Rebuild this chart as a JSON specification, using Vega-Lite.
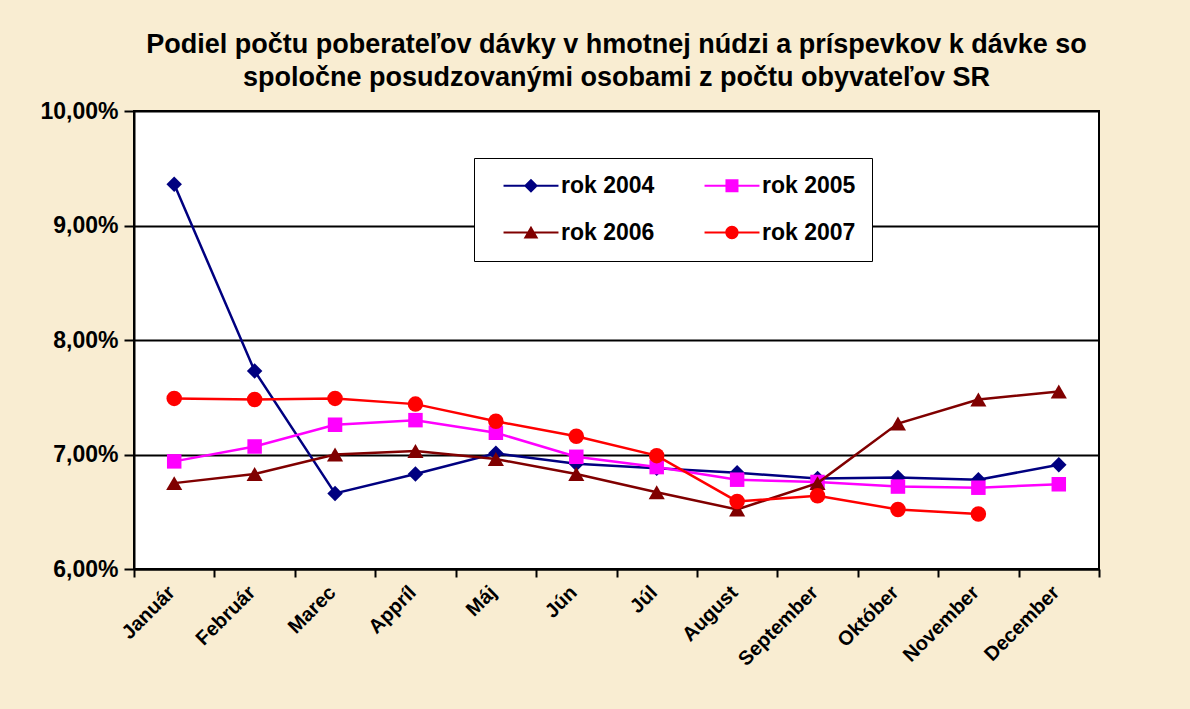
{
  "$schema": "https://vega.github.io/schema/vega-lite/v6.json",
  "width": 965,
  "height": 458,
  "autosize": {"type": "none"},
  "padding": {"left": 134, "top": 111, "right": 91, "bottom": 140},
  "background": "#F9EDD2",
  "title": {
    "text": ["Podiel  počtu poberateľov dávky v hmotnej núdzi a príspevkov k dávke so", "spoločne posudzovanými osobami z počtu obyvateľov SR"],
    "font": "Liberation Sans",
    "fontSize": 27,
    "fontWeight": "bold",
    "color": "black",
    "anchor": "middle",
    "offset": 8,
    "lineHeight": 33
  },
  "config": {
    "view": {"fill": "white", "stroke": "black", "strokeWidth": 2},
    "font": "Liberation Sans"
  },
  "data": {
    "values": [
      {"month": "Január", "series": "rok 2004", "value": 9.36},
      {"month": "Február", "series": "rok 2004", "value": 7.73},
      {"month": "Marec", "series": "rok 2004", "value": 6.66},
      {"month": "Appríl", "series": "rok 2004", "value": 6.83},
      {"month": "Máj", "series": "rok 2004", "value": 7.01},
      {"month": "Jún", "series": "rok 2004", "value": 6.92},
      {"month": "Júl", "series": "rok 2004", "value": 6.88},
      {"month": "August", "series": "rok 2004", "value": 6.84},
      {"month": "September", "series": "rok 2004", "value": 6.79},
      {"month": "Október", "series": "rok 2004", "value": 6.80},
      {"month": "November", "series": "rok 2004", "value": 6.78},
      {"month": "December", "series": "rok 2004", "value": 6.91},
      {"month": "Január", "series": "rok 2005", "value": 6.94},
      {"month": "Február", "series": "rok 2005", "value": 7.07},
      {"month": "Marec", "series": "rok 2005", "value": 7.26},
      {"month": "Appríl", "series": "rok 2005", "value": 7.30},
      {"month": "Máj", "series": "rok 2005", "value": 7.19},
      {"month": "Jún", "series": "rok 2005", "value": 6.98},
      {"month": "Júl", "series": "rok 2005", "value": 6.89},
      {"month": "August", "series": "rok 2005", "value": 6.78},
      {"month": "September", "series": "rok 2005", "value": 6.76},
      {"month": "Október", "series": "rok 2005", "value": 6.72},
      {"month": "November", "series": "rok 2005", "value": 6.71},
      {"month": "December", "series": "rok 2005", "value": 6.74},
      {"month": "Január", "series": "rok 2006", "value": 6.75},
      {"month": "Február", "series": "rok 2006", "value": 6.83},
      {"month": "Marec", "series": "rok 2006", "value": 7.00},
      {"month": "Appríl", "series": "rok 2006", "value": 7.03},
      {"month": "Máj", "series": "rok 2006", "value": 6.96},
      {"month": "Jún", "series": "rok 2006", "value": 6.83},
      {"month": "Júl", "series": "rok 2006", "value": 6.67},
      {"month": "August", "series": "rok 2006", "value": 6.52},
      {"month": "September", "series": "rok 2006", "value": 6.75},
      {"month": "Október", "series": "rok 2006", "value": 7.27},
      {"month": "November", "series": "rok 2006", "value": 7.48},
      {"month": "December", "series": "rok 2006", "value": 7.55},
      {"month": "Január", "series": "rok 2007", "value": 7.49},
      {"month": "Február", "series": "rok 2007", "value": 7.48},
      {"month": "Marec", "series": "rok 2007", "value": 7.49},
      {"month": "Appríl", "series": "rok 2007", "value": 7.44},
      {"month": "Máj", "series": "rok 2007", "value": 7.29},
      {"month": "Jún", "series": "rok 2007", "value": 7.16},
      {"month": "Júl", "series": "rok 2007", "value": 6.99},
      {"month": "August", "series": "rok 2007", "value": 6.59},
      {"month": "September", "series": "rok 2007", "value": 6.64},
      {"month": "Október", "series": "rok 2007", "value": 6.52},
      {"month": "November", "series": "rok 2007", "value": 6.48}
    ]
  },
  "encoding": {
    "x": {
      "field": "month",
      "type": "nominal",
      "sort": null,
      "bandPosition": 0.5,
      "scale": {"type": "band", "paddingInner": 0, "paddingOuter": 0},
      "axis": {
        "title": null,
        "labelAngle": -45,
        "labelFont": "Liberation Sans",
        "labelFontSize": 20,
        "labelFontWeight": "bold",
        "labelColor": "black",
        "labelPadding": 5,
        "labelOffset": -10,
        "tickBand": "extent",
        "tickColor": "black",
        "tickWidth": 2,
        "tickSize": 8,
        "domainColor": "black",
        "domainWidth": 2,
        "grid": false
      }
    },
    "y": {
      "field": "value",
      "type": "quantitative",
      "scale": {"domain": [6, 10], "nice": false, "zero": false},
      "axis": {
        "title": null,
        "values": [6, 7, 8, 9, 10],
        "labelExpr": "replace(format(datum.value, '.2f'), '.', ',') + '%'",
        "labelFont": "Liberation Sans",
        "labelFontSize": 23,
        "labelFontWeight": "bold",
        "labelColor": "black",
        "labelPadding": 6,
        "grid": true,
        "gridColor": "black",
        "gridWidth": 2,
        "gridOpacity": 1,
        "tickColor": "black",
        "tickWidth": 2,
        "tickSize": 10,
        "domainColor": "black",
        "domainWidth": 2
      }
    }
  },
  "layer": [
    {
      "transform": [{"filter": "datum.series === 'rok 2004'"}],
      "mark": {"type": "line", "color": "#000080", "strokeWidth": 2.5,
               "point": {"shape": "diamond", "filled": true, "size": 240, "opacity": 1, "color": "#000080"}}
    },
    {
      "transform": [{"filter": "datum.series === 'rok 2005'"}],
      "mark": {"type": "line", "color": "#FF00FF", "strokeWidth": 2.5,
               "point": {"shape": "square", "filled": true, "size": 210, "opacity": 1, "color": "#FF00FF"}}
    },
    {
      "transform": [{"filter": "datum.series === 'rok 2006'"}],
      "mark": {"type": "line", "color": "#800000", "strokeWidth": 2.5,
               "point": {"shape": "triangle-up", "filled": true, "size": 260, "opacity": 1, "color": "#800000"}}
    },
    {
      "transform": [{"filter": "datum.series === 'rok 2007'"}],
      "mark": {"type": "line", "color": "#FF0000", "strokeWidth": 2.5,
               "point": {"shape": "circle", "filled": true, "size": 240, "opacity": 1, "color": "#FF0000"}}
    },
    {
      "mark": {"type": "point", "filled": true, "opacity": 0},
      "encoding": {
        "color": {
          "field": "series",
          "type": "nominal",
          "scale": {"domain": ["rok 2004", "rok 2005", "rok 2006", "rok 2007"], "range": ["#000080", "#FF00FF", "#800000", "#FF0000"]},
          "legend": {
            "title": null,
            "orient": "none",
            "legendX": 340,
            "legendY": 47,
            "direction": "horizontal",
            "columns": 2,
            "fillColor": "white",
            "strokeColor": "black",
            "padding": 16,
            "symbolSize": 196,
            "symbolOpacity": 1,
            "symbolStrokeWidth": 0,
            "labelFont": "Liberation Sans",
            "labelFontSize": 23,
            "labelFontWeight": "bold",
            "labelColor": "black",
            "labelOffset": 48,
            "labelLimit": 200,
            "rowPadding": 23,
            "columnPadding": 36
          }
        },
        "shape": {
          "field": "series",
          "type": "nominal",
          "scale": {
            "domain": ["rok 2004", "rok 2005", "rok 2006", "rok 2007"],
            "range": [
              "M0.29,-0.14H8.14V0.14H0.29ZM4.21,-1L5.21,0L4.21,1L3.21,0Z",
              "M0.29,-0.14H8.14V0.14H0.29ZM3.28,-0.93H5.14V0.93H3.28Z",
              "M0.29,-0.14H8.14V0.14H0.29ZM4.21,-0.95L5.26,0.85H3.16Z",
              "M0.29,-0.14H8.14V0.14H0.29ZM3.26,0A0.95,0.95 0 1,1 5.16,0A0.95,0.95 0 1,1 3.26,0Z"
            ]
          },
          "legend": {
            "title": null,
            "orient": "none",
            "legendX": 340,
            "legendY": 47,
            "direction": "horizontal",
            "columns": 2,
            "fillColor": "white",
            "strokeColor": "black",
            "padding": 16,
            "symbolSize": 196,
            "symbolOpacity": 1,
            "symbolStrokeWidth": 0,
            "labelFont": "Liberation Sans",
            "labelFontSize": 23,
            "labelFontWeight": "bold",
            "labelColor": "black",
            "labelOffset": 48,
            "labelLimit": 200,
            "rowPadding": 23,
            "columnPadding": 36
          }
        }
      }
    }
  ]
}
